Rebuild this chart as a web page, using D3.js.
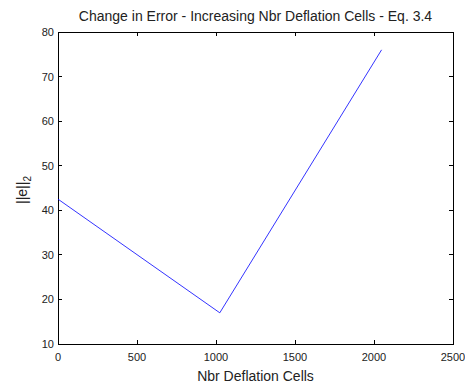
<!DOCTYPE html>
<html>
<head>
<meta charset="utf-8">
<script src="https://cdn.jsdelivr.net/npm/d3@7"></script>
<style>
  body { margin: 0; background: #fff; }
  text { font-family: "Liberation Sans", Arial, sans-serif; fill: #222; }
</style>
</head>
<body>
<svg id="chart" width="465" height="385"></svg>
<script>
// data
const cells = [0, 1024, 2048];
const errNorm = [42.5, 17, 76];
const xTicks = [0, 500, 1000, 1500, 2000, 2500];
const yTicks = [10, 20, 30, 40, 50, 60, 70, 80];

const svg = d3.select("#chart");
const padL = 58, padR = 453, padT = 32, padB = 344;

const x = d3.scaleLinear().domain([0, 2500]).range([padL, padR]);
const y = d3.scaleLinear().domain([10, 80]).range([padB, padT]);

svg.append("rect")
    .attr("x", 0).attr("y", 0)
    .attr("width", 465).attr("height", 385)
    .attr("fill", "#fff");

// box
svg.append("rect")
    .attr("x", padL).attr("y", padT)
    .attr("width", padR - padL).attr("height", padB - padT)
    .attr("fill", "none")
    .attr("stroke", "#000")
    .attr("stroke-width", 1)
    .attr("shape-rendering", "crispEdges");

// ticks (inward, all four sides)
const tk = 4;
xTicks.forEach(d => {
    svg.append("line").attr("x1", x(d)).attr("x2", x(d))
        .attr("y1", padB).attr("y2", padB - tk)
        .attr("stroke", "#000").attr("shape-rendering", "crispEdges");
    svg.append("line").attr("x1", x(d)).attr("x2", x(d))
        .attr("y1", padT).attr("y2", padT + tk)
        .attr("stroke", "#000").attr("shape-rendering", "crispEdges");
    svg.append("text")
        .attr("x", x(d)).attr("y", padB + 17)
        .attr("text-anchor", "middle")
        .attr("font-size", 11)
        .text(d);
});
yTicks.forEach(d => {
    svg.append("line").attr("x1", padL).attr("x2", padL + tk)
        .attr("y1", y(d)).attr("y2", y(d))
        .attr("stroke", "#000").attr("shape-rendering", "crispEdges");
    svg.append("line").attr("x1", padR).attr("x2", padR - tk)
        .attr("y1", y(d)).attr("y2", y(d))
        .attr("stroke", "#000").attr("shape-rendering", "crispEdges");
    svg.append("text")
        .attr("x", padL - 4).attr("y", y(d) + 4)
        .attr("text-anchor", "end")
        .attr("font-size", 11)
        .text(d);
});

// the series
const line = d3.line()
    .x((d, i) => x(cells[i]))
    .y(d => y(d));

svg.append("path")
    .datum(errNorm)
    .attr("d", line)
    .attr("fill", "none")
    .attr("stroke", "#0000ff")
    .attr("stroke-width", 0.8);

// title and labels
svg.append("text")
    .attr("x", (padL + padR) / 2).attr("y", 21)
    .attr("text-anchor", "middle")
    .attr("font-size", 14)
    .text("Change in Error - Increasing Nbr Deflation Cells - Eq. 3.4");

svg.append("text")
    .attr("x", (padL + padR) / 2).attr("y", 381)
    .attr("text-anchor", "middle")
    .attr("font-size", 14)
    .text("Nbr Deflation Cells");

const yl = svg.append("text")
    .attr("transform", "translate(27, 190) rotate(-90)")
    .attr("text-anchor", "middle")
    .attr("font-size", 14);
yl.append("tspan").text("||e||");
yl.append("tspan").attr("dy", 4).attr("font-size", 10).text("2");
</script>
</body>
</html>
